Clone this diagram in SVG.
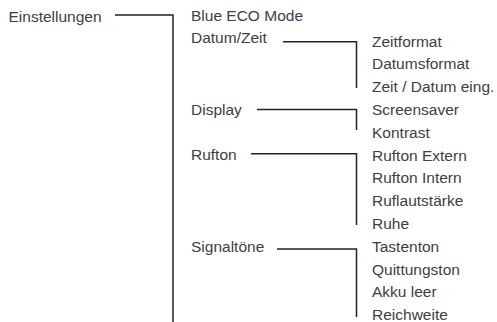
<svg xmlns="http://www.w3.org/2000/svg" width="497" height="322" viewBox="0 0 497 322">
<style>
text{font-family:"Liberation Sans",Arial,sans-serif;font-size:15.5px;fill:#404040}
.c{fill:none;stroke:#222;stroke-width:1.5}
</style>
<rect width="497" height="322" fill="#fff"/>
<g id="connectors">
<path class="c" d="M115 15H173V322"/>
<path class="c" d="M283 41.7H356.5V88"/>
<path class="c" d="M257 109.5H356.5V130"/>
<path class="c" d="M251 153.8H356.5V225"/>
<path class="c" d="M277 249H356.5V317"/>
</g>
<g id="einstellungen"><text x="8.5" y="22">Einstellungen</text></g>
<g id="blue-eco"><text x="191" y="20.5">Blue ECO Mode</text></g>
<g id="datum-zeit"><text x="191" y="43.3">Datum/Zeit</text></g>
<g id="display"><text x="191" y="114.5">Display</text></g>
<g id="rufton"><text x="191" y="160">Rufton</text></g>
<g id="signaltoene"><text x="191" y="251.7">Signaltöne</text></g>
<g id="zeitformat"><text x="372" y="46.5">Zeitformat</text></g>
<g id="datumsformat"><text x="372" y="69.3">Datumsformat</text></g>
<g id="zeit-datum"><text x="372" y="92.1">Zeit / Datum eing.</text></g>
<g id="screensaver"><text x="372" y="114.9">Screensaver</text></g>
<g id="kontrast"><text x="372" y="137.7">Kontrast</text></g>
<g id="rufton-extern"><text x="372" y="160.5">Rufton Extern</text></g>
<g id="rufton-intern"><text x="372" y="183.3">Rufton Intern</text></g>
<g id="ruflautstaerke"><text x="372" y="206.1">Ruflautstärke</text></g>
<g id="ruhe"><text x="372" y="228.9">Ruhe</text></g>
<g id="tastenton"><text x="372" y="251.7">Tastenton</text></g>
<g id="quittungston"><text x="372" y="274.5">Quittungston</text></g>
<g id="akku-leer"><text x="372" y="297.3">Akku leer</text></g>
<g id="reichweite"><text x="372" y="320">Reichweite</text></g>
</svg>
